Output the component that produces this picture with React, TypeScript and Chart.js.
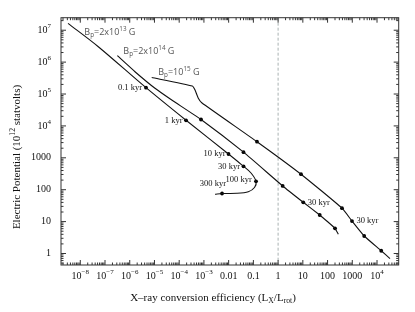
import React, { useEffect, useRef } from 'react';
import { Chart, registerables } from 'chart.js';

Chart.register(...registerables);

// ---------- data (X-ray conversion efficiency vs electric potential, 10^12 statvolts) ----------
// Bp = 2x10^13 G
const effB13 = [3.19e-9, 5.36e-8, 4.55e-6, 1.89e-4, 9.86e-3, 0.0399, 0.0802, 0.128, 0.111, 0.0624, 0.0212, 5.40e-3, 2.81e-3];
const potB13 = [1.64e7, 3.04e6, 1.58e5, 1.50e4, 1315, 542, 334, 183, 117, 86.5, 77.1, 76.0, 71.8];
const markEffB13 = [4.55e-6, 1.89e-4, 9.86e-3, 0.0399, 0.128, 5.40e-3];
const markPotB13 = [1.58e5, 1.50e4, 1315, 542, 183, 76.0];

// Bp = 2x10^14 G
const effB14 = [3.15e-7, 1.63e-6, 1.05e-5, 4.99e-5, 7.62e-4, 0.0399, 1.53, 10.4, 48.1, 104, 200, 272];
const potB14 = [1.59e6, 5.00e5, 1.51e5, 6.49e4, 1.59e4, 1500, 131, 40.3, 16.1, 9.70, 6.17, 4.00];
const markEffB14 = [7.62e-4, 0.0399, 1.53, 10.4, 48.1, 200];
const markPotB14 = [1.59e4, 1500, 131, 40.3, 16.1, 6.17];

// Bp = 10^15 G
const effB15 = [7.74e-6, 3.40e-4, 4.37e-4, 5.93e-4, 8.15e-4, 0.140, 8.43, 384, 973, 3030, 14800, 33500];
const potB15 = [3.29e5, 1.78e5, 1.33e5, 7.33e4, 5.33e4, 3200, 306, 26.3, 10.4, 3.54, 1.22, 0.687];
const markEffB15 = [0.140, 8.43, 384, 973, 3030, 14800];
const markPotB15 = [3200, 306, 26.3, 10.4, 3.54, 1.22];

// field labels (anchored in data space)
const fieldLabels = ['B_{p}=2x10^{13} G', 'B_{p}=2x10^{14} G', 'B_{p}=10^{15} G'];
const fieldLabelEff = [1.46e-8, 5.50e-7, 1.43e-5];
const fieldLabelPot = [8.59e6, 2.12e6, 4.79e5];

// age labels: text, which marker set, which marker
const ageTexts = ['0.1 kyr', '1 kyr', '10 kyr', '30 kyr', '100 kyr', '300 kyr', '30 kyr', '30 kyr'];
const ageSet = [0, 0, 0, 0, 0, 0, 1, 2];
const ageIdx = [0, 1, 2, 3, 4, 5, 3, 3];

// ticks
const xTickValues = [1e-8, 1e-7, 1e-6, 1e-5, 1e-4, 1e-3, 0.01, 0.1, 1, 10, 100, 1000, 1e4];
const xTickLabels = ['10^{\u22128}', '10^{\u22127}', '10^{\u22126}', '10^{\u22125}', '10^{\u22124}', '10^{\u22123}', '0.01', '0.1', '1', '10', '100', '1000', '10^{4}'];
const yTickValues = [1, 10, 100, 1000, 1e4, 1e5, 1e6, 1e7];
const yTickLabels = ['1', '10', '100', '1000', '10^{4}', '10^{5}', '10^{6}', '10^{7}'];

const X_MIN = 1.66e-9;
const X_MAX = 7.53e4;
const Y_MIN = 0.436;
const Y_MAX = 2.47e7;

const SERIF = '"Liberation Serif", "Times New Roman", serif';
const SANS = '"Open Sans", "Noto Sans", sans-serif';

type Seg = { t: string; m: number };
function parseRich(s: string): Seg[] {
  const out: Seg[] = [];
  let i = 0;
  let buf = '';
  while (i < s.length) {
    const c = s[i];
    if ((c === '^' || c === '_') && s[i + 1] === '{') {
      if (buf) { out.push({ t: buf, m: 0 }); buf = ''; }
      const end = s.indexOf('}', i);
      out.push({ t: s.slice(i + 2, end), m: c === '^' ? 1 : 2 });
      i = end + 1;
    } else {
      buf += c;
      i++;
    }
  }
  if (buf) out.push({ t: buf, m: 0 });
  return out;
}

function drawRich(ctx: CanvasRenderingContext2D, s: string, x: number, y: number, size: number,
  family: string, color: string, align: 'left' | 'center' | 'right') {
  const segs = parseRich(s);
  const small = size * 0.7;
  let w = 0;
  const widths = segs.map((g) => {
    ctx.font = `${g.m ? small : size}px ${family}`;
    const ww = ctx.measureText(g.t).width;
    w += ww;
    return ww;
  });
  let cx = align === 'left' ? x : align === 'right' ? x - w : x - w / 2;
  ctx.fillStyle = color;
  ctx.textBaseline = 'middle';
  ctx.textAlign = 'left';
  segs.forEach((g, k) => {
    ctx.font = `${g.m ? small : size}px ${family}`;
    const dy = g.m === 1 ? -size * 0.36 : g.m === 2 ? size * 0.3 : 0;
    ctx.fillText(g.t, cx, y + dy);
    cx += widths[k];
  });
}

const pts = (xs: number[], ys: number[]) => xs.map((x, i) => ({ x, y: ys[i] }));

const framePlugin = {
  id: 'framePlugin',
  beforeDatasetsDraw(chart: any) {
    const { ctx, chartArea: a, scales } = chart;
    const px = scales.x.getPixelForValue(1);
    ctx.save();
    ctx.strokeStyle = '#a9b2b2';
    ctx.lineWidth = 1;
    ctx.setLineDash([3, 2]);
    ctx.beginPath();
    ctx.moveTo(px, a.top);
    ctx.lineTo(px, a.bottom);
    ctx.stroke();
    ctx.restore();
  },
  afterDraw(chart: any) {
    const { ctx, chartArea: a, scales } = chart;
    const xs = scales.x;
    const ys = scales.y;
    ctx.save();
    // frame
    ctx.strokeStyle = '#333';
    ctx.lineWidth = 1;
    ctx.strokeRect(a.left, a.top, a.right - a.left, a.bottom - a.top);
    // ticks
    ctx.beginPath();
    for (let e = -9; e <= 5; e++) {
      for (let k = 1; k <= 9; k++) {
        const v = k * Math.pow(10, e);
        if (v < X_MIN || v > X_MAX) continue;
        const p = xs.getPixelForValue(v);
        const len = k === 1 ? 5 : 2.5;
        ctx.moveTo(p, a.bottom); ctx.lineTo(p, a.bottom - len);
        ctx.moveTo(p, a.top); ctx.lineTo(p, a.top + len);
      }
    }
    for (let e = -1; e <= 8; e++) {
      for (let k = 1; k <= 9; k++) {
        const v = k * Math.pow(10, e);
        if (v < Y_MIN || v > Y_MAX) continue;
        const p = ys.getPixelForValue(v);
        const len = k === 1 ? 5 : 2.5;
        ctx.moveTo(a.left, p); ctx.lineTo(a.left + len, p);
        ctx.moveTo(a.right, p); ctx.lineTo(a.right - len, p);
      }
    }
    ctx.stroke();

    // tick labels
    xTickValues.forEach((v, i) => {
      drawRich(ctx, xTickLabels[i], xs.getPixelForValue(v), a.bottom + 11, 10, SERIF, '#111', 'center');
    });
    yTickValues.forEach((v, i) => {
      drawRich(ctx, yTickLabels[i], a.left - 10, ys.getPixelForValue(v), 10, SERIF, '#111', 'right');
    });

    // axis titles
    drawRich(ctx, 'X\u2013ray conversion efficiency (L_{X}/L_{rot})', 213, 298, 11, SERIF, '#111', 'center');
    ctx.save();
    ctx.translate(17, 157);
    ctx.rotate(-Math.PI / 2);
    drawRich(ctx, 'Electric Potential (10^{12} statvolts)', 0, 0, 11, SERIF, '#111', 'center');
    ctx.restore();

    // field labels
    fieldLabels.forEach((t, i) => {
      drawRich(ctx, t, xs.getPixelForValue(fieldLabelEff[i]), ys.getPixelForValue(fieldLabelPot[i]), 9, SANS, '#555', 'left');
    });

    // age labels
    const sets = [[markEffB13, markPotB13], [markEffB14, markPotB14], [markEffB15, markPotB15]];
    const offs: [number, number, 'left' | 'right'][] = [
      [-4, 0, 'right'], [-3.5, 0, 'right'], [-3, 0, 'right'], [-3.5, 0, 'right'],
      [-4.3, -2, 'right'], [4, -10, 'right'], [4.5, 0, 'left'], [4.5, 0, 'left'],
    ];
    ageTexts.forEach((t, i) => {
      const s = sets[ageSet[i]];
      const mx = xs.getPixelForValue(s[0][ageIdx[i]]);
      const my = ys.getPixelForValue(s[1][ageIdx[i]]);
      drawRich(ctx, t, mx + offs[i][0], my + offs[i][1], 8.5, SERIF, '#111', offs[i][2]);
    });
    ctx.restore();
  },
};

export default function App() {
  const ref = useRef<HTMLCanvasElement | null>(null);
  useEffect(() => {
    if (!ref.current) return;
    const line = (label: string, xs: number[], ys: number[], tension: number) => ({
      label, data: pts(xs, ys), showLine: true, borderColor: '#111', borderWidth: 1.1,
      pointRadius: 0, tension, fill: false,
    });
    const marks = (label: string, xs: number[], ys: number[]) => ({
      label, data: pts(xs, ys), showLine: false, pointRadius: 1.9, pointBackgroundColor: '#000',
      pointBorderWidth: 0, borderColor: '#000',
    });
    const chart = new Chart(ref.current, {
      type: 'scatter',
      data: {
        datasets: [
          line('Bp=2x10^13 G', effB13, potB13, 0.3),
          line('Bp=2x10^14 G', effB14, potB14, 0.15),
          line('Bp=10^15 G', effB15, potB15, 0.15),
          marks('ages 2x10^13', markEffB13, markPotB13),
          marks('ages 2x10^14', markEffB14, markPotB14),
          marks('ages 10^15', markEffB15, markPotB15),
        ] as any,
      },
      options: {
        responsive: false,
        maintainAspectRatio: false,
        animation: false,
        layout: { padding: { left: 61, right: 16.3, top: 17.7, bottom: 47 } },
        plugins: { legend: { display: false }, tooltip: { enabled: false } },
        scales: {
          x: { type: 'logarithmic', min: X_MIN, max: X_MAX, display: false },
          y: { type: 'logarithmic', min: Y_MIN, max: Y_MAX, display: false },
        },
      } as any,
      plugins: [framePlugin],
    });
    return () => chart.destroy();
  }, []);
  return (
    <div style={{ position: 'fixed', left: 0, top: 0, width: 415, height: 312, background: '#fff' }}>
      <canvas ref={ref} width={415} height={312} style={{ display: 'block' }} />
    </div>
  );
}
